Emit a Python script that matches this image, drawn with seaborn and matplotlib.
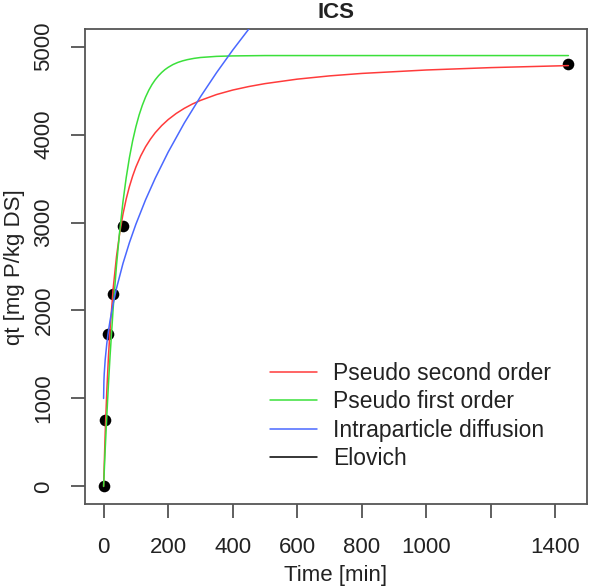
import matplotlib
matplotlib.use("Agg")
import matplotlib.pyplot as plt
from matplotlib.lines import Line2D
import seaborn as sns
import pandas as pd

# observed data
time_obs = [0, 5, 15, 30, 60, 1440]
qt_obs = [0, 755, 1735, 2190, 2955, 4805]

# fitted curves
t_pso = [0, 5, 10, 15, 20, 30, 40, 50, 60, 70, 80, 90, 100, 115, 130, 145, 160, 180, 200, 225, 250, 275,
         300, 350, 400, 450, 500, 600, 700, 800, 1000, 1200, 1440]
q_pso = [0, 612, 1089, 1470, 1782, 2262, 2613, 2882, 3095, 3267, 3409, 3528, 3630, 3757, 3861, 3947, 4021,
         4102, 4170, 4240, 4298, 4347, 4388, 4455, 4506, 4546, 4579, 4630, 4667, 4695, 4734, 4761, 4784]

t_pfo = [0, 5, 10, 15, 20, 30, 40, 50, 60, 70, 80, 90, 100, 110, 120, 130, 140, 150, 160, 170, 180, 190,
         200, 215, 230, 245, 260, 280, 300, 350, 400, 500, 1440]
q_pfo = [0, 422, 807, 1159, 1481, 2044, 2514, 2906, 3235, 3509, 3738, 3929, 4088, 4222, 4333, 4426, 4504,
         4569, 4623, 4668, 4706, 4738, 4764, 4796, 4820, 4838, 4852, 4866, 4876, 4889, 4894, 4898, 4898]

t_ipd = [0, 1, 2, 5, 10, 15, 20, 30, 40, 60, 80, 100, 130, 160, 200, 250, 300, 350, 400, 450, 500]
q_ipd = [1000, 1198, 1280, 1443, 1626, 1767, 1885, 2084, 2252, 2534, 2771, 2980, 3258, 3504, 3800, 4131,
         4429, 4704, 4960, 5200, 5427]

legend_labels = ["Pseudo second order", "Pseudo first order", "Intraparticle diffusion", "Elovich"]
x_ticks = [0, 200, 400, 600, 800, 1000, 1200, 1400]
x_ticklabels = ["0", "200", "400", "600", "800", "1000", "", "1400"]
y_ticks = [0, 1000, 2000, 3000, 4000, 5000]

colors = {"Pseudo second order": "#ff3b3b", "Pseudo first order": "#3be03b",
          "Intraparticle diffusion": "#4a68ff", "Elovich": "#000000"}

sns.set_style("white")
plt.rcParams["font.family"] = ["Liberation Sans", "DejaVu Sans"]
FS = 16

fig = plt.figure(figsize=(5.9, 5.88), dpi=100)
ax = fig.add_axes([85 / 590, 1 - 504 / 588, (587 - 85) / 590, (504 - 29) / 588])

df_obs = pd.DataFrame({"t": time_obs, "q": qt_obs})
sns.scatterplot(data=df_obs, x="t", y="q", ax=ax, color="black", s=70,
                edgecolor="black", linewidth=0, zorder=2, legend=False)

curves = [(t_pso, q_pso, legend_labels[0]), (t_pfo, q_pfo, legend_labels[1]),
          (t_ipd, q_ipd, legend_labels[2])]
for tt, qq, lab in curves:
    d = pd.DataFrame({"t": tt, "q": qq})
    sns.lineplot(data=d, x="t", y="q", ax=ax, color=colors[lab], linewidth=1.1,
                 zorder=3, legend=False, sort=False)

ax.set_xlim(-57.6, 1497.6)
ax.set_ylim(-200, 5200)
ax.set_xticks(x_ticks)
ax.set_xticklabels(x_ticklabels)
ax.set_yticks(y_ticks)
ax.set_yticklabels([str(v) for v in y_ticks], rotation=90, va="center")
ax.tick_params(axis="both", direction="out", length=10, width=1.2, color="#444444",
               labelsize=FS, labelcolor="#222222", bottom=True, left=True)
ax.tick_params(axis="x", pad=14)
ax.tick_params(axis="y", pad=12)
for s in ax.spines.values():
    s.set_color("#555555")
    s.set_linewidth(1.3)
ax.set_xlabel("")
ax.set_ylabel("")

fig.text(336 / 590, 1 - 13 / 588, "ICS", ha="center", va="center",
         fontsize=FS, fontweight="bold", color="#222222")
fig.text(336 / 590, 1 - 576 / 588, "Time [min]", ha="center", va="center",
         fontsize=FS, color="#222222")
fig.text(15 / 590, 1 - 267 / 588, "qt [mg P/kg DS]", ha="center", va="center",
         rotation=90, fontsize=FS, color="#222222")

handles = [Line2D([0], [0], color=colors[l], linewidth=1.1) for l in legend_labels]
ax.legend(handles, legend_labels, loc="upper left",
          bbox_to_anchor=(270 / 590, 1 - 362 / 588), bbox_transform=fig.transFigure,
          frameon=False, fontsize=16.5, handlelength=2.05, handletextpad=0.72,
          labelspacing=0.23, borderpad=0, borderaxespad=0, labelcolor="#222222")

fig.savefig("out.png", dpi=100)
